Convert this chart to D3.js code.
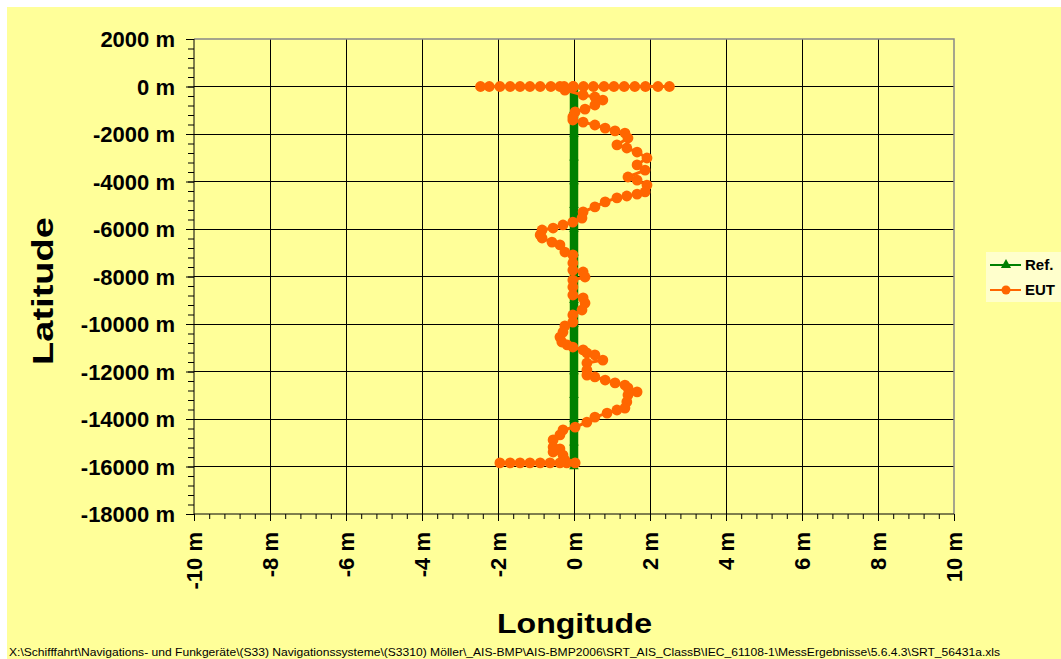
<!DOCTYPE html>
<html><head><meta charset="utf-8">
<script src="https://cdn.jsdelivr.net/npm/d3@7"></script>
<style>
html,body{margin:0;padding:0;background:#fff;}
svg{display:block;font-family:"Liberation Sans",Arial,sans-serif;}
</style></head>
<body>
<svg id="chart" width="1061" height="659"></svg>
<script>
// ---- data ----
const xTicks = [-10,-8,-6,-4,-2,0,2,4,6,8,10];
const yTicks = [2000,0,-2000,-4000,-6000,-8000,-10000,-12000,-14000,-16000,-18000];
const seriesNames = ["Ref.","EUT"];
const refLon = [0,0,0,0,0,0,0,0,0,0,0,0,0,0,0,0,0];
const refLat = [0,-1000,-2000,-3000,-4000,-5000,-6000,-7000,-8000,-9000,-10000,-11000,-12000,-13000,-14000,-15000,-16000];
const eutLon = [2.51,2.21,1.88,1.60,1.32,1.05,0.79,0.51,0.25,-0.02,-0.26,-0.37,-0.61,-0.89,-1.16,-1.42,-1.68,-1.95,-2.23,-2.46,-0.02,
  -0.24,0.24,0.55,0.76,0.55,0.29,0.03,-0.03,-0.03,0.24,0.55,0.82,1.08,1.34,1.42,1.13,1.39,1.66,1.92,1.66,1.87,1.42,1.66,1.92,
  1.87,1.66,1.39,1.13,0.82,0.55,0.24,0.21,-0.03,-0.29,-0.55,-0.84,-0.89,-0.84,-0.58,-0.37,-0.24,-0.03,-0.03,-0.03,0.24,0.29,
  -0.03,-0.03,-0.03,0.24,0.29,0.21,-0.03,-0.03,-0.24,-0.29,-0.37,-0.32,-0.18,-0.03,0.24,0.34,0.55,0.76,0.34,0.34,0.34,0.55,
  0.82,1.08,1.34,1.42,1.66,1.42,1.39,1.34,1.13,0.87,0.55,0.34,0.03,-0.29,-0.37,-0.55,-0.55,-0.37,-0.55,-0.29,-0.24,
  0.03,-0.19,-0.37,-0.63,-0.89,-1.16,-1.42,-1.68,-1.95];
const eutLat = [0,0,0,0,0,0,0,0,0,0,0,0,0,0,0,0,0,0,0,0,0,
  -150,-360,-440,-570,-780,-950,-1070,-1280,-1410,-1500,-1620,-1750,-1870,-1960,-2170,-2460,-2590,-2760,-3010,-3300,-3520,-3810,-3940,-4150,
  -4440,-4530,-4610,-4690,-4860,-5070,-5280,-5540,-5710,-5830,-5960,-6040,-6250,-6380,-6550,-6670,-6970,-7090,-7430,-7730,-7810,-8020,
  -8150,-8440,-8780,-8900,-9120,-9410,-9620,-9920,-10080,-10340,-10550,-10760,-10880,-10970,-11090,-11220,-11300,-11520,-11640,-11940,-12150,-12230,
  -12360,-12480,-12570,-12690,-12860,-12990,-13280,-13540,-13620,-13750,-13920,-14130,-14340,-14460,-14670,-14880,-15180,-15260,-15390,-15520,-15730,
  -15850,-15850,-15850,-15850,-15850,-15850,-15850,-15850,-15850];
const footer = "X:\\Schifffahrt\\Navigations- und Funkgeräte\\(S33) Navigationssysteme\\(S3310) Möller\\_AIS-BMP\\AIS-BMP2006\\SRT_AIS_ClassB\\IEC_61108-1\\MessErgebnisse\\5.6.4.3\\SRT_56431a.xls";

// ---- drawing ----
const svg = d3.select("#chart");
const BG = "#FFFF99", GREEN = "#008000", ORANGE = "#FF6600";
svg.append("rect").attr("x",7).attr("y",7).attr("width",1054).attr("height",652).attr("fill",BG);

const L=194,R=954,T=39,B=514;
const x = d3.scaleLinear().domain([-10,10]).range([L,R]);
const y = d3.scaleLinear().domain([-18000,2000]).range([B,T]);
const fmt = d => String(d) + " m";

// gridlines
const g = svg.append("g");
g.selectAll(".vg").data(xTicks.filter(d=>d>-10 && d<10)).join("line")
  .attr("x1",d=>x(d)).attr("x2",d=>x(d)).attr("y1",T).attr("y2",B)
  .attr("stroke","#000").attr("stroke-width",1).attr("shape-rendering","crispEdges");
g.selectAll(".hg").data(yTicks.filter(d=>d>-18000 && d<2000)).join("line")
  .attr("x1",L).attr("x2",R).attr("y1",d=>y(d)).attr("y2",d=>y(d))
  .attr("stroke","#000").attr("stroke-width",1).attr("shape-rendering","crispEdges");
// top/right border
g.append("path").attr("d",`M${L},${T}H${R}V${B}`).attr("fill","none").attr("stroke","#888").attr("stroke-width",1.5);

// axes
const minorX = d3.range(-10,10.001,0.4);
const minorY = d3.range(-18000,2001,400);
const yAxisMinor = d3.axisLeft(y).tickValues(minorY).tickSize(6).tickFormat("");
const xAxisMinor = d3.axisBottom(x).tickValues(minorX).tickSize(5).tickFormat("");
svg.append("g").attr("transform",`translate(${L},0)`).call(yAxisMinor).call(s=>{s.select(".domain").remove();s.selectAll("line").attr("stroke","#000");});
svg.append("g").attr("transform",`translate(0,${B})`).call(xAxisMinor).call(s=>{s.select(".domain").remove();s.selectAll("line").attr("stroke","#000");});

const yAxis = d3.axisLeft(y).tickValues(yTicks).tickSize(8).tickPadding(11).tickFormat(fmt);
svg.append("g").attr("transform",`translate(${L},0)`).call(yAxis)
  .call(s=>{s.select(".domain").attr("stroke","#000").attr("d",`M0,${T}V${B}`);
    s.selectAll("line").attr("stroke","#000");
    s.selectAll("text").attr("font-size","22px").attr("font-weight","bold").attr("fill","#000")
      .attr("font-family","'Liberation Sans',Arial,sans-serif").attr("dy","0.36em");});
const xAxis = d3.axisBottom(x).tickValues(xTicks).tickSize(7).tickFormat(fmt);
svg.append("g").attr("transform",`translate(0,${B})`).call(xAxis)
  .call(s=>{s.select(".domain").attr("stroke","#000").attr("d",`M${L},0H${R}`);
    s.selectAll("line").attr("stroke","#000");
    s.selectAll("text").attr("font-size","22px").attr("font-weight","bold").attr("fill","#000")
      .attr("font-family","'Liberation Sans',Arial,sans-serif")
      .attr("transform","rotate(-90)").attr("text-anchor","end")
      .attr("x",-18).attr("y",0).attr("dy","0.36em");});

// series
const refData = refLon.map((d,i)=>({lon:d,lat:refLat[i]}));
const eutData = eutLon.map((d,i)=>({lon:d,lat:eutLat[i]}));
const line = d3.line().x(d=>x(d.lon)).y(d=>y(d.lat));
svg.append("path").datum(refData).attr("d",line).attr("fill","none").attr("stroke",GREEN).attr("stroke-width",8.5);
svg.append("g").selectAll("path").data(refData).join("path")
  .attr("d",d3.symbol(d3.symbolTriangle,40)).attr("transform",d=>`translate(${x(d.lon)},${y(d.lat)})`).attr("fill",GREEN);
svg.append("path").datum(eutData).attr("d",line).attr("fill","none").attr("stroke",ORANGE).attr("stroke-width",3).attr("stroke-linejoin","round");
svg.append("g").selectAll("circle").data(eutData).join("circle")
  .attr("cx",d=>x(d.lon)).attr("cy",d=>y(d.lat)).attr("r",5.4).attr("fill",ORANGE);

// axis titles
svg.append("text").attr("transform","translate(53,291) rotate(-90)").attr("text-anchor","middle")
  .attr("font-size","30px").attr("font-weight","bold").attr("textLength",148).attr("lengthAdjust","spacingAndGlyphs").text("Latitude");
svg.append("text").attr("x",574.5).attr("y",633).attr("text-anchor","middle")
  .attr("font-size","27px").attr("font-weight","bold").attr("textLength",155).attr("lengthAdjust","spacingAndGlyphs").text("Longitude");

// legend
const lg = svg.append("g");
lg.append("rect").attr("x",986).attr("y",252).attr("width",80).attr("height",50).attr("fill","#FFFFCC");
const colors=[GREEN,ORANGE], ly=[265,290];
seriesNames.forEach((n,i)=>{
  lg.append("line").attr("x1",990).attr("x2",1021).attr("y1",ly[i]).attr("y2",ly[i]).attr("stroke",colors[i]).attr("stroke-width",2);
  if(i===0) lg.append("path").attr("d",d3.symbol(d3.symbolTriangle,45)).attr("transform",`translate(1006,${ly[i]})`).attr("fill",colors[i]);
  else lg.append("circle").attr("cx",1006).attr("cy",ly[i]).attr("r",4.5).attr("fill",colors[i]);
  lg.append("text").attr("x",1025).attr("y",ly[i]).attr("dy","0.36em").attr("font-size","15px").attr("font-weight","bold").text(n);
});

// footer
svg.append("text").attr("x",9).attr("y",656).attr("font-size","11px").attr("textLength",991).attr("lengthAdjust","spacingAndGlyphs").text(footer);
</script>
</body></html>
